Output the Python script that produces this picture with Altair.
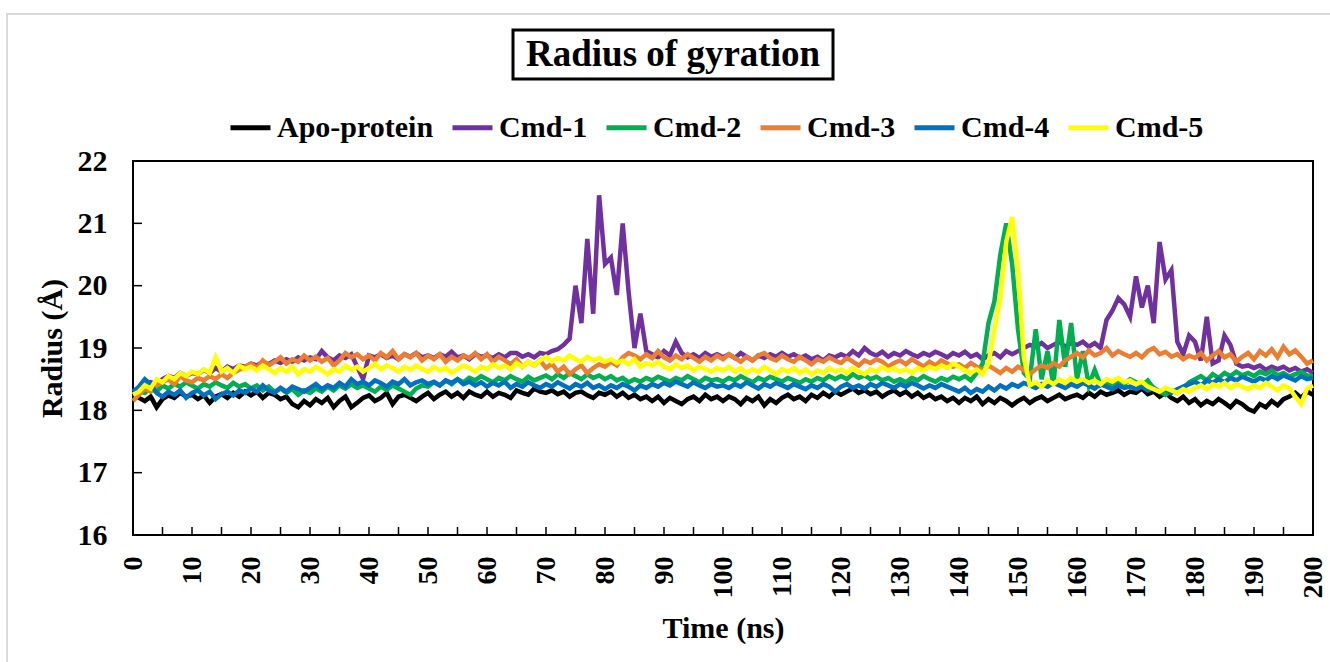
import altair as alt
import pandas as pd

time_ns = list(range(0, 201))

apo = [
    18.25, 18.20, 18.15, 18.22, 18.05, 18.18, 18.24, 18.20, 18.28, 18.22,
    18.25, 18.18, 18.24, 18.12, 18.22, 18.26, 18.20, 18.28, 18.22, 18.30,
    18.24, 18.30, 18.20, 18.28, 18.25, 18.18, 18.22, 18.10, 18.05, 18.15,
    18.08, 18.18, 18.12, 18.20, 18.05, 18.15, 18.22, 18.05, 18.12, 18.20,
    18.24, 18.15, 18.20, 18.28, 18.10, 18.22, 18.25, 18.20, 18.15, 18.22,
    18.28, 18.18, 18.25, 18.30, 18.22, 18.28, 18.20, 18.30, 18.25, 18.22,
    18.30, 18.22, 18.28, 18.25, 18.20, 18.32, 18.28, 18.25, 18.35, 18.30,
    18.28, 18.32, 18.26, 18.30, 18.22, 18.28, 18.30, 18.24, 18.20, 18.28,
    18.25, 18.30, 18.22, 18.28, 18.20, 18.25, 18.18, 18.22, 18.15, 18.22,
    18.12, 18.20, 18.15, 18.10, 18.18, 18.22, 18.15, 18.25, 18.18, 18.22,
    18.15, 18.22, 18.18, 18.10, 18.20, 18.15, 18.22, 18.08, 18.18, 18.12,
    18.20, 18.25, 18.18, 18.22, 18.15, 18.25, 18.20, 18.28, 18.22, 18.30,
    18.25, 18.30, 18.35, 18.28, 18.32, 18.26, 18.30, 18.22, 18.28, 18.32,
    18.25, 18.30, 18.22, 18.28, 18.20, 18.25, 18.18, 18.22, 18.15, 18.20,
    18.12, 18.20, 18.15, 18.22, 18.10, 18.18, 18.12, 18.20, 18.15, 18.08,
    18.15, 18.20, 18.12, 18.18, 18.22, 18.15, 18.20, 18.25, 18.18, 18.22,
    18.25, 18.20, 18.28, 18.22, 18.30, 18.25, 18.28, 18.32, 18.25, 18.30,
    18.28, 18.35, 18.26, 18.30, 18.22, 18.28, 18.20, 18.15, 18.22, 18.12,
    18.18, 18.08, 18.15, 18.10, 18.18, 18.12, 18.05, 18.15, 18.10, 18.02,
    17.98, 18.10, 18.05, 18.15, 18.08, 18.18, 18.22, 18.28, 18.20, 18.30,
    18.25,
]

cmd1 = [
    18.30, 18.35, 18.40, 18.45, 18.42, 18.50, 18.55, 18.52, 18.60, 18.55,
    18.60, 18.58, 18.65, 18.60, 18.68, 18.62, 18.70, 18.66, 18.72, 18.70,
    18.75, 18.72, 18.78, 18.74, 18.80, 18.76, 18.82, 18.78, 18.85, 18.80,
    18.85, 18.82, 18.95, 18.85, 18.80, 18.88, 18.84, 18.90, 18.70, 18.50,
    18.88, 18.85, 18.90, 18.84, 18.88, 18.82, 18.90, 18.86, 18.92, 18.85,
    18.88, 18.84, 18.90, 18.86, 18.94, 18.85, 18.88, 18.82, 18.90, 18.86,
    18.88, 18.84, 18.90, 18.85, 18.92, 18.92, 18.86, 18.90, 18.85, 18.92,
    18.90, 18.95, 18.98, 19.05, 19.15, 20.00, 19.40, 20.75, 19.55, 21.45,
    20.35, 20.45, 19.85, 21.00, 19.90, 19.00, 19.55, 18.95, 18.90, 18.85,
    18.95, 18.88, 19.10, 18.92, 18.85, 18.90, 18.84, 18.92, 18.86, 18.90,
    18.85, 18.90, 18.84, 18.92, 18.86, 18.80, 18.88, 18.84, 18.90, 18.86,
    18.92, 18.86, 18.90, 18.84, 18.88, 18.82, 18.86, 18.80, 18.88, 18.85,
    18.90, 18.86, 18.95, 18.88, 19.00, 18.92, 18.88, 18.94, 18.86, 18.92,
    18.88, 18.95, 18.90, 18.86, 18.92, 18.88, 18.94, 18.90, 18.85, 18.92,
    18.88, 18.94, 18.86, 18.90, 18.82, 18.88, 18.92, 18.85, 18.95, 18.90,
    18.95, 19.00, 19.05, 19.02, 19.08, 19.00, 19.05, 19.10, 19.02, 19.08,
    19.05, 19.10, 19.02, 19.08, 19.00, 19.45, 19.60, 19.80, 19.70, 19.50,
    20.15, 19.65, 20.00, 19.40, 20.70, 20.10, 20.25, 19.10, 18.90, 19.20,
    19.10, 18.80, 19.50, 18.75, 18.80, 19.20, 19.05, 18.75, 18.70, 18.72,
    18.68, 18.72, 18.65, 18.70, 18.66, 18.70, 18.64, 18.68, 18.62, 18.66,
    18.60,
]

cmd2 = [
    18.25, 18.30, 18.28, 18.35, 18.30, 18.40, 18.35, 18.42, 18.38, 18.45,
    18.40, 18.35, 18.42, 18.38, 18.45, 18.40, 18.36, 18.44, 18.38, 18.42,
    18.35, 18.40, 18.32, 18.38, 18.30, 18.35, 18.28, 18.34, 18.25, 18.32,
    18.28, 18.35, 18.30, 18.38, 18.32, 18.40, 18.35, 18.42, 18.36, 18.40,
    18.35, 18.30, 18.38, 18.33, 18.40, 18.35, 18.30, 18.25, 18.35, 18.40,
    18.38, 18.45, 18.40, 18.48, 18.42, 18.50, 18.45, 18.52, 18.48, 18.55,
    18.50, 18.45, 18.52, 18.48, 18.55, 18.50, 18.46, 18.54, 18.48, 18.52,
    18.56, 18.50, 18.58, 18.52, 18.60, 18.55, 18.50, 18.58, 18.52, 18.56,
    18.50, 18.55, 18.48, 18.52, 18.45, 18.50, 18.46, 18.52, 18.48, 18.54,
    18.50, 18.46, 18.52, 18.48, 18.55, 18.50, 18.45, 18.52, 18.48, 18.50,
    18.46, 18.52, 18.48, 18.55, 18.50, 18.45, 18.52, 18.48, 18.54, 18.50,
    18.46, 18.52, 18.48, 18.44, 18.50, 18.46, 18.52, 18.48, 18.55, 18.50,
    18.55, 18.50, 18.58, 18.52, 18.56, 18.50, 18.54, 18.48, 18.52, 18.46,
    18.50, 18.45, 18.52, 18.48, 18.55, 18.50, 18.46, 18.52, 18.48, 18.54,
    18.50, 18.55, 18.48, 18.60, 18.75, 19.40, 19.75, 20.50, 21.00, 20.35,
    19.30, 18.60, 18.50, 19.30, 18.50, 18.95, 18.40, 19.45, 18.70, 19.40,
    18.50, 18.95, 18.40, 18.65, 18.40, 18.45, 18.40, 18.48, 18.42, 18.50,
    18.45, 18.40, 18.48, 18.35, 18.30, 18.25, 18.32, 18.28, 18.35, 18.45,
    18.50, 18.55, 18.48, 18.58, 18.52, 18.60, 18.55, 18.62, 18.56, 18.60,
    18.55, 18.62, 18.58, 18.64, 18.56, 18.60, 18.54, 18.58, 18.62, 18.56,
    18.55,
]

cmd3 = [
    18.15, 18.25, 18.35, 18.30, 18.40, 18.45, 18.50, 18.42, 18.55, 18.48,
    18.45, 18.52, 18.48, 18.55, 18.50, 18.58, 18.52, 18.60, 18.65, 18.70,
    18.75, 18.68, 18.80, 18.72, 18.78, 18.85, 18.75, 18.82, 18.78, 18.88,
    18.80, 18.86, 18.78, 18.84, 18.72, 18.80, 18.92, 18.85, 18.90, 18.82,
    18.88, 18.80, 18.92, 18.85, 18.95, 18.82, 18.90, 18.85, 18.92, 18.80,
    18.88, 18.82, 18.90, 18.78, 18.86, 18.80, 18.88, 18.84, 18.92, 18.82,
    18.90, 18.78, 18.86, 18.80, 18.74, 18.82, 18.70, 18.78, 18.72, 18.80,
    18.68, 18.75, 18.62, 18.70, 18.58, 18.66, 18.72, 18.60, 18.68, 18.74,
    18.70, 18.78, 18.72, 18.85, 18.92, 18.88, 18.82, 18.90, 18.84, 18.95,
    18.85, 18.80, 18.88, 18.82, 18.90, 18.84, 18.78, 18.86, 18.80, 18.88,
    18.82, 18.90, 18.84, 18.78, 18.86, 18.80, 18.88, 18.92, 18.84, 18.80,
    18.88, 18.82, 18.78, 18.86, 18.80, 18.74, 18.82, 18.78, 18.85, 18.80,
    18.76, 18.84, 18.78, 18.72, 18.80, 18.76, 18.82, 18.78, 18.70, 18.76,
    18.80, 18.74, 18.82, 18.76, 18.70, 18.78, 18.72, 18.80, 18.75, 18.70,
    18.74, 18.68, 18.76, 18.70, 18.64, 18.72, 18.66, 18.60, 18.68, 18.62,
    18.70, 18.65, 18.58, 18.66, 18.72, 18.68, 18.76, 18.70, 18.80, 18.86,
    18.92, 18.85, 18.96, 18.88, 18.92, 19.00, 18.88, 18.95, 18.90, 18.86,
    18.92, 18.85, 18.95, 19.00, 18.90, 18.94, 18.86, 18.90, 18.82, 18.88,
    18.84, 18.92, 18.80, 18.88, 18.95, 18.85, 18.90, 18.78, 18.86, 18.92,
    18.82, 18.95, 18.88, 18.98, 18.85, 19.02, 18.90, 18.96, 18.86, 18.75,
    18.80,
]

cmd4 = [
    18.30, 18.38, 18.50, 18.42, 18.28, 18.22, 18.30, 18.25, 18.32, 18.20,
    18.28, 18.32, 18.24, 18.30, 18.18, 18.26, 18.30, 18.24, 18.32, 18.28,
    18.35, 18.30, 18.40, 18.32, 18.28, 18.36, 18.30, 18.38, 18.34, 18.30,
    18.36, 18.42, 18.34, 18.40, 18.36, 18.44, 18.38, 18.50, 18.42, 18.46,
    18.40, 18.48, 18.44, 18.38, 18.46, 18.42, 18.50, 18.40, 18.45, 18.48,
    18.42, 18.46, 18.40, 18.48, 18.44, 18.50, 18.42, 18.46, 18.40, 18.45,
    18.38, 18.44, 18.40, 18.46, 18.36, 18.42, 18.38, 18.45, 18.40, 18.36,
    18.42, 18.38, 18.45, 18.40, 18.35, 18.42, 18.38, 18.44, 18.36, 18.40,
    18.34, 18.40, 18.36, 18.42, 18.38, 18.32, 18.40, 18.36, 18.42, 18.38,
    18.44, 18.40, 18.46, 18.42, 18.38, 18.45, 18.40, 18.36, 18.42, 18.38,
    18.40, 18.36, 18.42, 18.38, 18.45, 18.40, 18.35, 18.42, 18.38, 18.44,
    18.40, 18.36, 18.42, 18.38, 18.34, 18.40, 18.36, 18.42, 18.38, 18.30,
    18.38, 18.42, 18.36, 18.40, 18.35, 18.42, 18.38, 18.44, 18.40, 18.36,
    18.42, 18.38, 18.44, 18.40, 18.35, 18.40, 18.36, 18.42, 18.38, 18.34,
    18.30, 18.36, 18.28, 18.34, 18.30, 18.38, 18.32, 18.40, 18.35, 18.42,
    18.38, 18.44, 18.40, 18.36, 18.42, 18.38, 18.44, 18.40, 18.36, 18.42,
    18.38, 18.44, 18.40, 18.35, 18.42, 18.38, 18.34, 18.40, 18.36, 18.38,
    18.34, 18.38, 18.32, 18.36, 18.30, 18.34, 18.28, 18.34, 18.38, 18.42,
    18.46, 18.40, 18.48, 18.44, 18.50, 18.45, 18.52, 18.48, 18.54, 18.50,
    18.46, 18.52, 18.48, 18.55, 18.50, 18.56, 18.52, 18.48, 18.55, 18.50,
    18.52,
]

cmd5 = [
    18.25, 18.30, 18.40, 18.35, 18.50, 18.45, 18.55, 18.50, 18.60, 18.55,
    18.62, 18.58, 18.66, 18.60, 18.85, 18.62, 18.68, 18.60, 18.72, 18.66,
    18.70, 18.64, 18.72, 18.66, 18.60, 18.68, 18.62, 18.70, 18.58, 18.66,
    18.62, 18.70, 18.64, 18.58, 18.66, 18.62, 18.72, 18.65, 18.70, 18.62,
    18.68, 18.75, 18.66, 18.72, 18.68, 18.62, 18.70, 18.65, 18.72, 18.66,
    18.62, 18.70, 18.64, 18.68, 18.60, 18.66, 18.72, 18.68, 18.62, 18.70,
    18.66, 18.74, 18.68, 18.72, 18.66, 18.76, 18.70, 18.78, 18.72, 18.80,
    18.86, 18.78, 18.84, 18.80, 18.88, 18.82, 18.78, 18.86, 18.80, 18.84,
    18.78, 18.82, 18.76, 18.80, 18.74, 18.82, 18.70, 18.76, 18.72, 18.78,
    18.70, 18.66, 18.74, 18.68, 18.72, 18.64, 18.70, 18.66, 18.62, 18.68,
    18.64, 18.70, 18.62, 18.68, 18.60, 18.66, 18.62, 18.70, 18.64, 18.58,
    18.66, 18.62, 18.68, 18.60, 18.66, 18.58, 18.64, 18.60, 18.68, 18.62,
    18.66, 18.60, 18.68, 18.62, 18.58, 18.66, 18.62, 18.70, 18.64, 18.68,
    18.62, 18.66, 18.60, 18.68, 18.64, 18.70, 18.66, 18.72, 18.68, 18.75,
    18.70, 18.64, 18.60, 18.66, 18.58, 18.75, 19.30, 19.80, 20.70, 21.10,
    20.25, 18.85, 18.40, 18.45, 18.38, 18.48, 18.42, 18.50, 18.44, 18.52,
    18.46, 18.50, 18.44, 18.48, 18.42, 18.50, 18.46, 18.52, 18.45, 18.48,
    18.42, 18.46, 18.38, 18.34, 18.30, 18.36, 18.32, 18.28, 18.34, 18.30,
    18.36, 18.40, 18.34, 18.42, 18.38, 18.44, 18.36, 18.42, 18.38, 18.34,
    18.40, 18.36, 18.44, 18.38, 18.32, 18.40, 18.35, 18.22, 18.10, 18.35,
    18.40,
]

series_names = ["Apo-protein", "Cmd-1", "Cmd-2", "Cmd-3", "Cmd-4", "Cmd-5"]
series_colors = ["#000000", "#7030A0", "#00B050", "#ED7D31", "#0070C0", "#FFFF00"]
series_values = [apo, cmd1, cmd2, cmd3, cmd4, cmd5]

x_tick_values = list(range(0, 201, 5))
y_tick_values = list(range(16, 23))
chart_title = ["Radius of gyration"]

rows = []
for name, vals in zip(series_names, series_values):
    for t, v in zip(time_ns, vals):
        rows.append({"Time": t, "Radius": v, "Series": name})
df = pd.DataFrame(rows)

FONT = "Liberation Serif"
W, H = 1180, 374

x_scale = alt.Scale(domain=[0, 200], nice=False, zero=False)
y_scale = alt.Scale(domain=[16, 22], nice=False, zero=False)

lines = alt.Chart(df).mark_line(strokeWidth=4.5).encode(
    x=alt.X(
        "Time:Q",
        scale=x_scale,
        axis=alt.Axis(
            values=x_tick_values,
            labelExpr="datum.value % 10 == 0 ? datum.label : ''",
            labelAngle=270,
            labelPadding=21,
            labelOverlap=False,
            labelFlush=False,
            labelFont=FONT,
            labelFontSize=28,
            labelFontWeight="bold",
            labelColor="black",
            ticks=False,
            tickSize=0,
            domain=False,
            grid=False,
            title="Time (ns)",
            titleFont=FONT,
            titleFontSize=30,
            titleFontWeight="bold",
            titleColor="black",
            titleY=102,
            titleBaseline="alphabetic",
        ),
    ),
    y=alt.Y(
        "Radius:Q",
        scale=y_scale,
        axis=alt.Axis(
            values=y_tick_values,
            format="d",
            labelPadding=26,
            labelOverlap=False,
            labelFlush=False,
            labelFont=FONT,
            labelFontSize=30,
            labelFontWeight="bold",
            labelColor="black",
            ticks=False,
            tickSize=0,
            domain=False,
            grid=False,
            title="Radius (Å)",
            titleFont=FONT,
            titleFontSize=30,
            titleFontWeight="bold",
            titleColor="black",
            titleAngle=270,
            titleX=-81,
            titleY=H / 2,
            titleBaseline="middle",
            titleAlign="center",
        ),
    ),
    color=alt.Color(
        "Series:N",
        sort=series_names,
        scale=alt.Scale(domain=series_names, range=series_colors),
        legend=alt.Legend(
            title=None,
            orient="none",
            legendX=95,
            legendY=-56,
            direction="horizontal",
            symbolType="stroke",
            symbolSize=1600,
            symbolStrokeWidth=5,
            labelFont=FONT,
            labelFontSize=30,
            labelFontWeight="bold",
            labelColor="black",
            labelOffset=4,
            labelLimit=400,
            columnPadding=8,
        ),
    ),
)

xt_df = pd.DataFrame({"Time": x_tick_values})
x_ticks = alt.Chart(xt_df).mark_rule(color="black", strokeWidth=1.5).encode(
    x=alt.X("Time:Q", scale=x_scale),
    y=alt.value(H),
    y2=alt.value(H - 8),
)

yt_df = pd.DataFrame({"Radius": y_tick_values})
y_ticks = alt.Chart(yt_df).mark_rule(color="black", strokeWidth=1.5).encode(
    y=alt.Y("Radius:Q", scale=y_scale),
    x=alt.value(0),
    x2=alt.value(9),
)

title_df = pd.DataFrame({"label": chart_title})
frame = alt.Chart(title_df).mark_rect(filled=False, stroke="#D9D9D9", strokeWidth=2).encode(
    x=alt.value(-126), x2=alt.value(1250), y=alt.value(-147), y2=alt.value(560)
)
title_box = alt.Chart(title_df).mark_rect(fill="white", stroke="black", strokeWidth=3).encode(
    x=alt.value(380), x2=alt.value(700), y=alt.value(-131), y2=alt.value(-82)
)
title_text = alt.Chart(title_df).mark_text(
    font=FONT, fontSize=37, fontWeight="bold", align="center", baseline="middle", color="black"
).encode(x=alt.value(540), y=alt.value(-106), text="label:N")

chart = (
    alt.layer(lines, x_ticks, y_ticks, frame, title_box, title_text)
    .properties(
        width=W,
        height=H,
        autosize=alt.AutoSizeParams(type="none"),
        padding={"left": 133, "top": 161, "right": 17, "bottom": 127},
        background="white",
    )
    .configure_view(stroke="black", strokeWidth=2)
)

chart.save("out.html", embed_options={"renderer": "svg", "actions": False})
